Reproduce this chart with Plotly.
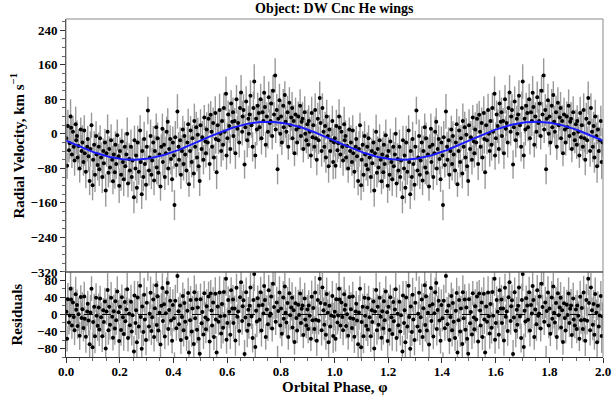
import numpy as np
import plotly.graph_objects as go

# ---------------- data (phase 0-1; the plot repeats it for 1-2) ----------------
phase = [
    0.001, 0.004, 0.007, 0.011, 0.014, 0.017, 0.019,
    0.022, 0.026, 0.029, 0.032, 0.036, 0.038,
    0.041, 0.043, 0.047, 0.051, 0.055, 0.058,
    0.061, 0.065, 0.068, 0.070, 0.074, 0.079,
    0.081, 0.084, 0.088, 0.091, 0.095, 0.099,
    0.101, 0.105, 0.108, 0.112, 0.114, 0.118,
    0.122, 0.124, 0.127, 0.131, 0.135, 0.139,
    0.141, 0.145, 0.148, 0.151, 0.155, 0.158,
    0.161, 0.164, 0.168, 0.172, 0.175, 0.178,
    0.182, 0.184, 0.187, 0.191, 0.196, 0.198,
    0.201, 0.205, 0.208, 0.212, 0.215, 0.219,
    0.221, 0.225, 0.228, 0.231, 0.235, 0.238,
    0.242, 0.245, 0.248, 0.253, 0.255, 0.259,
    0.261, 0.264, 0.267, 0.271, 0.276, 0.278,
    0.282, 0.284, 0.288, 0.291, 0.294, 0.298,
    0.301, 0.305, 0.309, 0.312, 0.315, 0.318,
    0.321, 0.325, 0.328, 0.331, 0.336, 0.338,
    0.341, 0.344, 0.348, 0.352, 0.355, 0.359,
    0.361, 0.365, 0.368, 0.372, 0.375, 0.379,
    0.381, 0.384, 0.388, 0.391, 0.395, 0.398,
    0.402, 0.404, 0.407, 0.411, 0.415, 0.419,
    0.421, 0.425, 0.428, 0.432, 0.435, 0.438,
    0.441, 0.444, 0.449, 0.452, 0.455, 0.458,
    0.462, 0.464, 0.468, 0.471, 0.476, 0.478,
    0.481, 0.485, 0.488, 0.491, 0.494, 0.498,
    0.501, 0.505, 0.508, 0.512, 0.515, 0.519,
    0.521, 0.524, 0.528, 0.531, 0.535, 0.539,
    0.542, 0.544, 0.548, 0.551, 0.556, 0.558,
    0.561, 0.565, 0.568, 0.572, 0.575, 0.578,
    0.581, 0.585, 0.588, 0.591, 0.596, 0.598,
    0.601, 0.604, 0.608, 0.612, 0.615, 0.619,
    0.622, 0.624, 0.628, 0.631, 0.635, 0.638,
    0.641, 0.645, 0.648, 0.652, 0.656, 0.658,
    0.661, 0.665, 0.668, 0.671, 0.675, 0.679,
    0.681, 0.684, 0.687, 0.691, 0.695, 0.698,
    0.701, 0.705, 0.708, 0.711, 0.714, 0.718,
    0.721, 0.725, 0.728, 0.732, 0.735, 0.738,
    0.741, 0.744, 0.748, 0.752, 0.755, 0.759,
    0.762, 0.764, 0.768, 0.771, 0.775, 0.779,
    0.781, 0.785, 0.788, 0.791, 0.795, 0.798,
    0.801, 0.804, 0.809, 0.811, 0.815, 0.818,
    0.821, 0.825, 0.828, 0.832, 0.835, 0.839,
    0.842, 0.844, 0.848, 0.851, 0.855, 0.858,
    0.861, 0.865, 0.868, 0.872, 0.875, 0.878,
    0.881, 0.884, 0.889, 0.891, 0.895, 0.899,
    0.902, 0.904, 0.908, 0.912, 0.915, 0.918,
    0.921, 0.925, 0.928, 0.931, 0.934, 0.938,
    0.941, 0.945, 0.948, 0.952, 0.955, 0.959,
    0.962, 0.965, 0.968, 0.971, 0.975, 0.978,
    0.981, 0.984, 0.988, 0.992, 0.995, 0.998,
]

velocity = [
    -10, -74, 18, -38, -22, 40, 14,
    -48, 5, -30, -62, 22, -15,
    -5, -55, -28, -80, 10, -40,
    -20, -65, 8, -45, -88, -30,
    -12, -52, -109, -35, 20, -119,
    -60, -25, -95, -5, -48, -72,
    -30, -82, -10, -55, -100, -40,
    -68, -20, -131, -45, 5, -90,
    -35, -78, -15, -60, -110, -48,
    -89, -25, -70, -3, -52, -120,
    -40, -95, -18, -65, -105, -30,
    -75, -48, 0, -115, -58, -85,
    -30, -100, -62, -147, -15, -80,
    -50, -125, -20, -88, 8, -65,
    -140, -40, -100, -12, -70, -118,
    -30, 54, -85, -55, -5, -95,
    -62, -20, -108, -40, 15, -78,
    -10, -90, -48, -122, -30, 12,
    -65, -25, -100, -45, 5, 28,
    -80, -35, -12, -58, -105, -20,
    -50, -165, -8, -72, 52, -30,
    -60, -15, -95, -40, 10, -70,
    -5, -48, -85, -20, 22, -117,
    -40, 8, -65, -10, -92, 30,
    -30, 15, -55, -2, -75, -109,
    20, -35, -8, -60, 38, -18,
    -45, 10, -20, 35, -70, 44,
    5, -30, 25, -55, 48, -12,
    -89, 20, -15, 55, 0, -40,
    30, -25, 60, 5, 93, -50,
    -10, 45, 18, -35, 70, 28,
    50, -5, 30, -45, 80, 12,
    25, -20, 60, 96, 5, 40,
    55, -71, 15, 75, -15, 35,
    0, 45, 88, 20, -30, 60,
    121, -50, 35, 10, 65, 48,
    15, 80, -10, 50, 30, 95,
    62, -25, 40, 5, 85, 25,
    30, 70, -5, 100, 45, 135,
    10, 55, -82, 35, 78, 0,
    40, -20, 65, 15, 90, 28,
    5, 50, -30, 72, 20, 38,
    60, -10, 30, -45, 45, 10,
    -20, 40, 15, 65, -5, 28,
    35, -35, 50, 0, -15, 22,
    -25, 30, 5, -50, 48, -8,
    20, -30, 55, -10, -60, 35,
    -15, 83, 25, -40, 60, 5,
    -30, 18, -55, 40, -5, -75,
    10, -40, -15, 30, -65, -20,
]

error = [
    34, 30, 38, 28, 36, 40, 32,
    31, 37, 29, 35, 41, 33,
    36, 30, 39, 33, 28, 37,
    40, 32, 35, 29, 38, 34,
    30, 36, 33, 41, 29, 35,
    37, 31, 40, 34, 28, 36,
    33, 39, 30, 35, 37, 29,
    36, 32, 38, 31, 40, 34,
    29, 35, 37, 33, 30, 39,
    38, 31, 34, 36, 29, 40,
    32, 37, 30, 35, 39, 33,
    35, 29, 38, 32, 36, 30,
    40, 33, 31, 37, 34, 28,
    31, 36, 39, 30, 35, 38,
    34, 29, 33, 40, 31, 36,
    37, 32, 35, 29, 38, 33,
    30, 38, 34, 36, 32, 39,
    36, 31, 40, 33, 29, 35,
    33, 37, 30, 38, 35, 31,
    39, 34, 32, 36, 30, 37,
    31, 35, 38, 29, 40, 34,
    36, 30, 33, 37, 32, 38,
    34, 39, 31, 35, 36, 29,
    38, 33, 36, 30, 34, 40,
    30, 36, 32, 39, 33, 35,
    37, 31, 38, 34, 29, 36,
    33, 40, 30, 35, 37, 32,
    35, 29, 36, 31, 39, 34,
    39, 34, 32, 38, 30, 36,
    31, 37, 35, 30, 40, 33,
    36, 32, 39, 34, 31, 37,
    34, 38, 30, 36, 33, 29,
    30, 35, 37, 40, 32, 36,
    37, 33, 31, 35, 39, 30,
    33, 39, 36, 29, 34, 38,
    40, 31, 34, 37, 30, 35,
    32, 36, 38, 31, 35, 39,
    35, 30, 33, 39, 36, 32,
    38, 34, 31, 36, 29, 40,
    31, 37, 35, 33, 38, 30,
    36, 29, 39, 34, 32, 37,
    34, 38, 30, 36, 35, 31,
    37, 33, 36, 30, 39, 34,
    30, 35, 32, 38, 33, 36,
    39, 31, 37, 35, 30, 34,
    33, 36, 34, 29, 38, 32,
    35, 30, 39, 33, 36, 37,
    32, 38, 31, 36, 34, 30,
    36, 33, 35, 39, 31, 38,
    34, 37, 30, 35, 40, 33,
]

# sine fit: v = gamma - K sin(2 pi (phi - phi0))
fit_gamma = -16.0
fit_K = 44.0
fit_phi0 = 0.0

title_text = "Object: DW Cnc He wings"
rv_ticks = [-320, -240, -160, -80, 0, 80, 160, 240]
res_ticks = [-80, -40, 0, 40, 80]
x_ticks = [0.0, 0.2, 0.4, 0.6, 0.8, 1.0, 1.2, 1.4, 1.6, 1.8, 2.0]

# ---------------- build ----------------
ph = np.array(phase, dtype=float)
v = np.array(velocity, dtype=float)
e = np.array(error, dtype=float)
ph2 = np.concatenate([ph, ph + 1.0])
v2 = np.concatenate([v, v])
e2 = np.concatenate([e, e])


def model(p):
    return fit_gamma - fit_K * np.sin(2 * np.pi * (p - fit_phi0))


res2 = v2 - model(ph2)
grid = np.linspace(0, 2, 600)

FONT = "Liberation Serif"
ERRC = "#999999"
split = 0.2515

fig = go.Figure()

# top panel
fig.add_trace(go.Scatter(x=ph2, y=v2, mode="markers", xaxis="x", yaxis="y",
                         marker=dict(size=1, color="rgba(0,0,0,0)"),
                         error_y=dict(type="data", array=e2, color=ERRC, thickness=1.4, width=0),
                         hoverinfo="skip", showlegend=False))
fig.add_trace(go.Scatter(x=ph2, y=v2, mode="markers", xaxis="x", yaxis="y",
                         marker=dict(size=4, color="black"), showlegend=False))
fig.add_trace(go.Scatter(x=grid, y=model(grid), mode="lines", xaxis="x", yaxis="y",
                         line=dict(color="#1a1aff", width=2), showlegend=False))

# residual panel
fig.add_trace(go.Scatter(x=ph2, y=res2, mode="markers", xaxis="x", yaxis="y2",
                         marker=dict(size=1, color="rgba(0,0,0,0)"),
                         error_y=dict(type="data", array=e2, color=ERRC, thickness=1.4, width=0),
                         hoverinfo="skip", showlegend=False))
fig.add_trace(go.Scatter(x=ph2, y=res2, mode="markers", xaxis="x", yaxis="y2",
                         marker=dict(size=4, color="black"), showlegend=False))

tickfont = dict(family=FONT, size=13, color="black", weight="bold")

fig.update_layout(
    width=612, height=403,
    margin=dict(l=66, r=9, t=19, b=46, autoexpand=False),
    paper_bgcolor="white", plot_bgcolor="white",
    showlegend=False,
    xaxis=dict(domain=[0, 1], anchor="y2", range=[0, 2], tickvals=x_ticks, automargin=False,
               tickformat=".1f", ticks="outside", ticklen=5, tickwidth=1, tickcolor="#333",
               ticklabelstandoff=-3,
               minor=dict(dtick=0.05, ticklen=3, tickcolor="#666", ticks="outside"),
               showline=True, linecolor="#333", linewidth=1, showgrid=False, zeroline=False,
               tickfont=tickfont),
    yaxis=dict(domain=[split, 1], anchor="x", range=[-320, 266], tickvals=rv_ticks, automargin=False,
               ticks="outside", ticklen=5, tickwidth=1, tickcolor="#333",
               minor=dict(dtick=20, ticklen=3, tickcolor="#666", ticks="outside"),
               showline=True, linecolor="#333", linewidth=1, showgrid=False, zeroline=False,
               tickfont=tickfont),
    yaxis2=dict(domain=[0, split], anchor="x", range=[-100, 100], tickvals=res_ticks, automargin=False,
                ticks="outside", ticklen=5, tickwidth=1, tickcolor="#333",
                minor=dict(dtick=20, ticklen=3, tickcolor="#666", ticks="outside"),
                showline=True, linecolor="#333", linewidth=1, showgrid=False, zeroline=False,
                tickfont=tickfont),
)

# frames and zero line
fig.add_shape(type="rect", xref="paper", yref="paper", x0=0, x1=1, y0=split, y1=1,
              line=dict(color="#8a8a8a", width=1), layer="above")
fig.add_shape(type="line", xref="paper", yref="paper", x0=1, x1=1, y0=0, y1=split,
              line=dict(color="#8a8a8a", width=1), layer="above")
fig.add_shape(type="line", xref="paper", yref="paper", x0=0, x1=1, y0=split, y1=split,
              line=dict(color="#333", width=1), layer="above")
fig.add_shape(type="line", xref="x", yref="y2", x0=0, x1=2, y0=0, y1=0,
              line=dict(color="black", width=1, dash="dash"), layer="above")

# texts
fig.add_annotation(text=title_text, xref="paper", yref="paper", x=0.5, y=1.0,
                   xanchor="center", yanchor="bottom", yshift=1, showarrow=False,
                   font=dict(family=FONT, size=14, color="black", weight="bold"))
fig.add_annotation(text="Radial Velocity, km s<sup>\u22121</sup>", xref="paper", yref="paper",
                   x=-0.0894, y=(split + 1) / 2, xanchor="center", yanchor="middle",
                   textangle=-90, showarrow=False,
                   font=dict(family=FONT, size=15, color="black", weight="bold"))
fig.add_annotation(text="Residuals", xref="paper", yref="paper",
                   x=-0.0894, y=split / 2, xanchor="center", yanchor="middle",
                   textangle=-90, showarrow=False,
                   font=dict(family=FONT, size=15, color="black", weight="bold"))
fig.add_annotation(text="Orbital Phase, \u03c6", xref="paper", yref="paper",
                   x=0.5, y=-0.089, xanchor="center", yanchor="middle", showarrow=False,
                   font=dict(family=FONT, size=15, color="black", weight="bold"))

fig.write_html("out.html", config={"displayModeBar": False},
               post_script="document.body.style.margin='0';document.body.style.overflow='hidden';")
